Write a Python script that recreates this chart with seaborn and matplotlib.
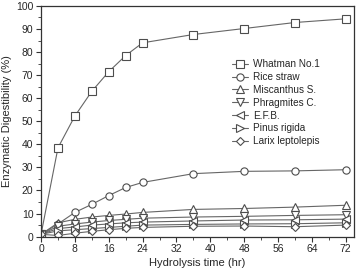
import numpy as np
import pandas as pd
import matplotlib
matplotlib.use('Agg')
import matplotlib.pyplot as plt
import seaborn as sns
from matplotlib.ticker import MultipleLocator

hours = [0, 4, 8, 12, 16, 20, 24, 36, 48, 60, 72]
whatman = [1.0, 38.5, 52.3, 63.0, 71.5, 78.5, 84.0, 87.6, 90.2, 92.8, 94.4]
rice_straw = [1.0, 5.5, 10.5, 14.0, 17.8, 21.3, 23.5, 27.3, 28.3, 28.5, 29.0]
miscanthus = [1.0, 6.0, 7.5, 8.5, 9.2, 9.8, 10.5, 11.8, 12.2, 12.8, 13.6]
phragmites = [1.0, 4.5, 5.5, 6.3, 7.0, 7.5, 8.0, 8.5, 8.8, 9.2, 9.5]
efb = [1.0, 3.5, 4.2, 5.0, 5.5, 6.0, 6.3, 6.8, 7.2, 7.3, 7.6]
pinus = [1.0, 2.5, 3.0, 3.5, 4.0, 4.5, 5.0, 5.3, 5.5, 5.6, 6.0]
larix = [1.0, 0.5, 1.5, 2.3, 3.0, 3.6, 4.0, 4.5, 4.6, 4.3, 5.0]

names = ['Whatman No.1', 'Rice straw', 'Miscanthus S.', 'Phragmites C.',
         'E.F.B.', 'Pinus rigida', 'Larix leptolepis']
series = [whatman, rice_straw, miscanthus, phragmites, efb, pinus, larix]
markers = ['s', 'o', '^', 'v', '<', '>', 'D']

sns.set_style('ticks')
plt.rcParams['font.family'] = ['Liberation Sans', 'DejaVu Sans']

fig = plt.figure(figsize=(3.57, 2.68), dpi=100)
ax = fig.add_axes([0.115, 0.117, 0.876, 0.861])

for name, vals, m in zip(names, series, markers):
    msize = 4.2 if m == 'D' else 5.2
    sns.lineplot(x=hours, y=vals, ax=ax, color='0.4', lw=0.8, marker=m,
                 markersize=msize, markerfacecolor='white', markeredgecolor='0.3',
                 markeredgewidth=0.8, label=name)

ax.set_xlim(0, 73.9)
ax.set_ylim(0, 100)
ax.xaxis.set_major_locator(MultipleLocator(8))
ax.xaxis.set_minor_locator(MultipleLocator(4))
ax.yaxis.set_major_locator(MultipleLocator(10))
ax.yaxis.set_minor_locator(MultipleLocator(5))
ax.tick_params(which='major', length=3.5, width=0.8, labelsize=7.5, pad=2, color='0.2')
ax.tick_params(which='minor', length=2, width=0.6, color='0.2')
for s in ax.spines.values():
    s.set_linewidth(0.9)
    s.set_color('0.2')
ax.set_xlabel('Hydrolysis time (hr)', fontsize=8, labelpad=2.5)
ax.set_ylabel('Enzymatic Digestibility (%)', fontsize=8, labelpad=3)

ax.legend(loc='upper left', bbox_to_anchor=(0.595, 0.79), frameon=False, fontsize=7.2,
          labelspacing=0.28, handlelength=1.6, handletextpad=0.45, borderpad=0)

fig.savefig('out.png', dpi=100)
